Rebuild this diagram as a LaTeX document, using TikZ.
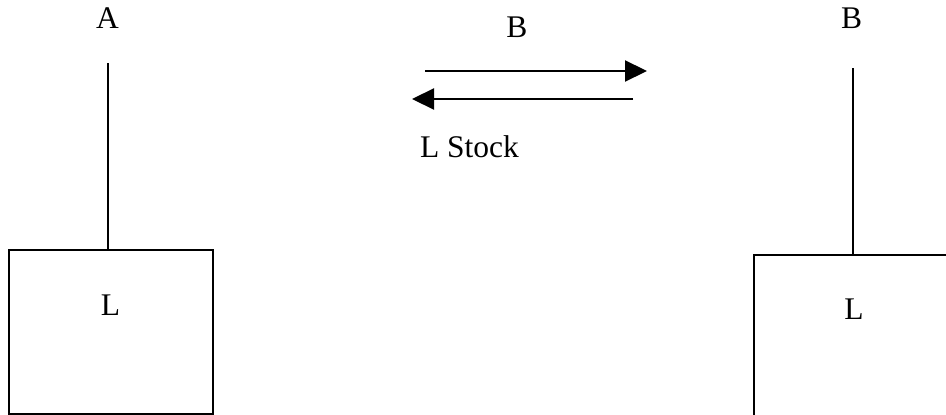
\documentclass[tikz,border=0pt]{standalone}
\usepackage{fontspec}
\setmainfont{Liberation Serif}
\usepackage{tikz}
\usetikzlibrary{arrows.meta, positioning}

\begin{document}
\begin{tikzpicture}[
  x=1pt, y=-1pt,
  line width=2.2pt,
  >={Triangle[length=22pt, width=21pt]},
  font=\fontsize{31.5}{36}\selectfont,
  lbl/.style={inner sep=0pt, anchor=base},
  tank/.style={draw, rectangle, inner sep=0pt, anchor=north west},
]
  \useasboundingbox (0,0) rectangle (946,415);
  \clip (0,0) rectangle (946,415);

  % left side
  \node[tank, minimum width=204pt, minimum height=164pt] (tankA) at (8,249) {};
  \node[lbl] (lA) at (110.5,315) {L};
  \node[lbl] (nameA) at (107.5,28) {A};
  \coordinate (topA) at (108,63);

  % right side, runs past the edge
  \node[tank, minimum width=260pt, minimum height=200pt] (tankB) at (752.5,253.5) {};
  \node[lbl] (lB) at (854,319) {L};
  \node[lbl] (nameB) at (851.5,28) {B};
  \coordinate (topB) at (853,68);

  % exchange
  \node[lbl] (nameX) at (517,37) {B};
  \node[lbl, anchor=base west] (stock) at (419,157) {L Stock};
  \coordinate (goS) at (425,71);
  \coordinate (goE) at (647,71);
  \coordinate (backS) at (633,99);
  \coordinate (backE) at (412,99);

  \draw (topA) -- (topA |- tankA.north);
  \draw (topB) -- (topB |- tankB.north);
  \draw[->] (goS) -- (goE);
  \draw[->] (backS) -- (backE);
\end{tikzpicture}
\end{document}
